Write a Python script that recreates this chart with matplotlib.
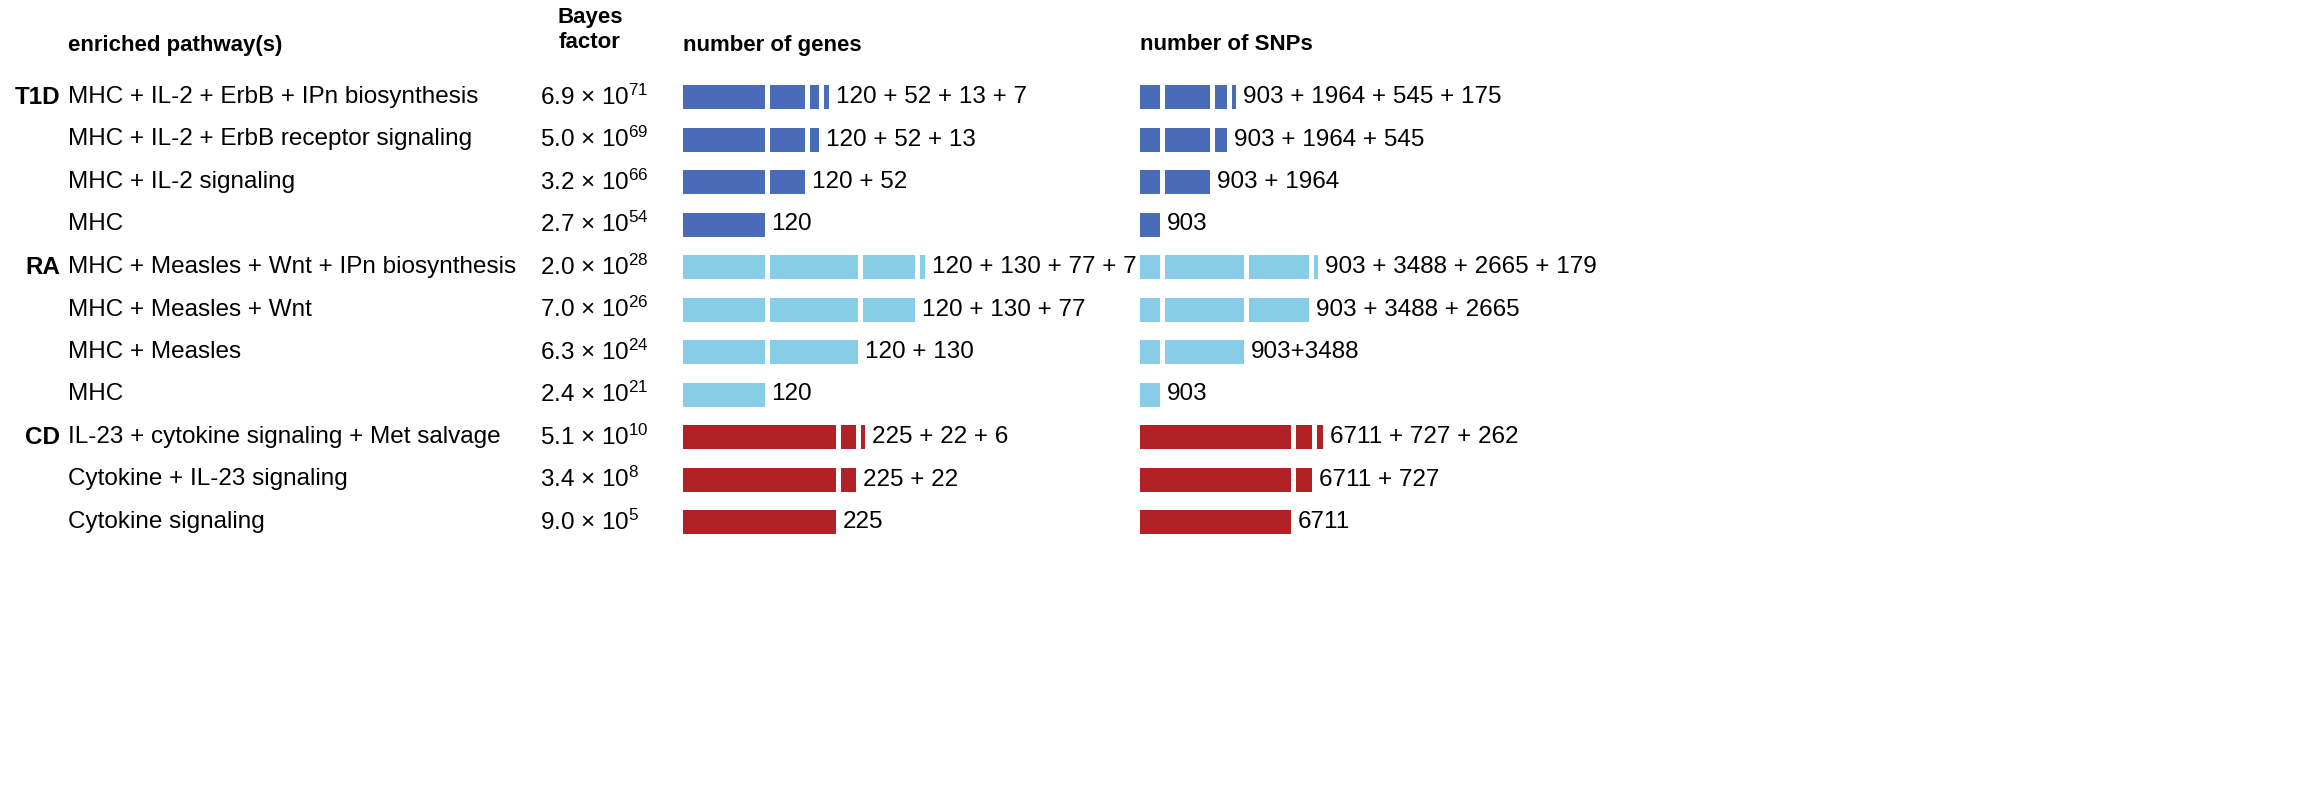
import matplotlib
matplotlib.use("Agg")
import matplotlib.pyplot as plt

plt.rcParams['font.family'] = ['Liberation Sans', 'DejaVu Sans']
plt.rcParams['mathtext.default'] = 'regular'

diseases = ["T1D", None, None, None, "RA", None, None, None, "CD", None, None]
pathways = ["MHC + IL-2 + ErbB + IPn biosynthesis", "MHC + IL-2 + ErbB receptor signaling",
            "MHC + IL-2 signaling", "MHC",
            "MHC + Measles + Wnt + IPn biosynthesis", "MHC + Measles + Wnt", "MHC + Measles", "MHC",
            "IL-23 + cytokine signaling + Met salvage", "Cytokine + IL-23 signaling", "Cytokine signaling"]
bf_mant = ["6.9", "5.0", "3.2", "2.7", "2.0", "7.0", "6.3", "2.4", "5.1", "3.4", "9.0"]
bf_exp = [71, 69, 66, 54, 28, 26, 24, 21, 10, 8, 5]
genes = [[120, 52, 13, 7], [120, 52, 13], [120, 52], [120],
         [120, 130, 77, 7], [120, 130, 77], [120, 130], [120],
         [225, 22, 6], [225, 22], [225]]
snps = [[903, 1964, 545, 175], [903, 1964, 545], [903, 1964], [903],
        [903, 3488, 2665, 179], [903, 3488, 2665], [903, 3488], [903],
        [6711, 727, 262], [6711, 727], [6711]]
snp_labels = [None] * 11
snp_labels[6] = "903+3488"
group = [0, 0, 0, 0, 1, 1, 1, 1, 2, 2, 2]
colors = ["#4a6bb8", "#87cde8", "#b02226"]

fig = plt.figure(figsize=(23.2, 8), dpi=100)
ax = fig.add_axes([0, 0, 1, 1])
ax.set_xlim(0, 2320)
ax.set_ylim(800, 0)
ax.axis('off')

fs = 17.5
ax.text(68, 45, "enriched pathway(s)", fontsize=16, fontweight='bold', va='center')
ax.text(590, 30, "Bayes\nfactor", fontsize=16, fontweight='bold', va='center', ha='center', linespacing=1.3)
ax.text(683, 45, "number of genes", fontsize=16, fontweight='bold', va='center')
ax.text(1140, 45, "number of SNPs", fontsize=16, fontweight='bold', va='center')

def draw_bars(x0, vals, scale, y, col, label):
    x = x0
    for v in vals:
        w = v * scale
        ax.barh(y, w, left=x, height=24, color=col, linewidth=0)
        x += w + 5
    ax.text(x + 2, y, label, fontsize=fs, va='center')

y0, dy = 97, 42.5
for i in range(11):
    y = y0 + i * dy
    if diseases[i]:
        ax.text(60, y, diseases[i], fontsize=fs, fontweight='bold', va='center', ha='right')
    ax.text(68, y, pathways[i], fontsize=fs, va='center')
    ax.text(540, y, f"{bf_mant[i]} × 10$^{{{bf_exp[i]}}}$", fontsize=fs, va='center')
    col = colors[group[i]]
    draw_bars(683, genes[i], 0.68, y, col, " + ".join(str(g) for g in genes[i]))
    lab = snp_labels[i] or " + ".join(str(s) for s in snps[i])
    draw_bars(1140, snps[i], 0.0225, y, col, lab)

fig.savefig("out.png", dpi=100, facecolor='white')
